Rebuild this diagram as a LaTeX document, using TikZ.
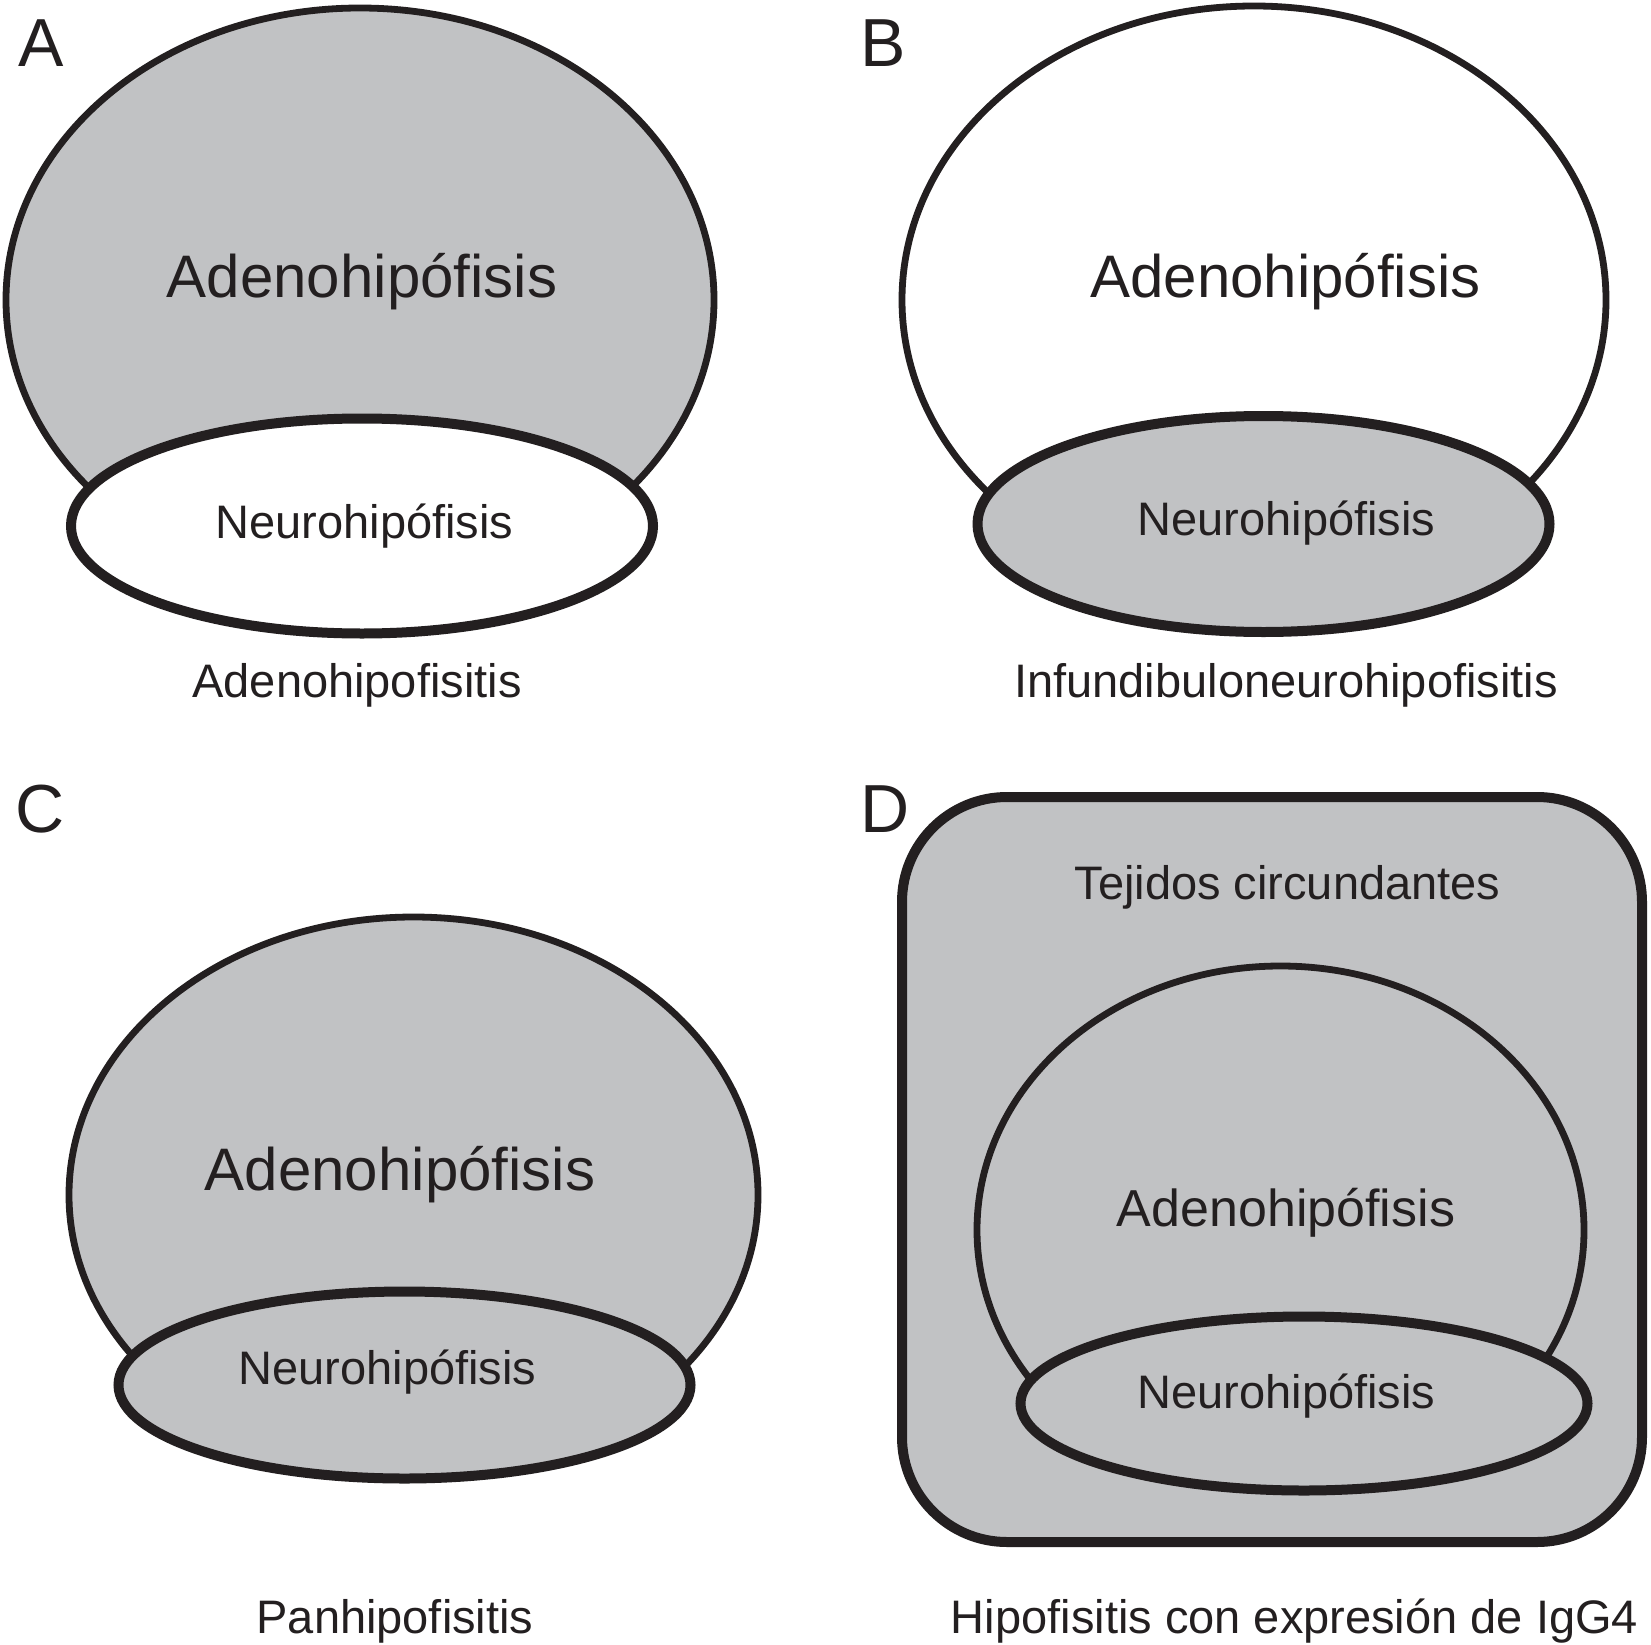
\documentclass[tikz,border=0pt]{standalone}
\usepackage{fontspec}
\setmainfont{Liberation Sans}
\definecolor{ink}{HTML}{231F20}
\definecolor{tissue}{HTML}{C1C2C4}
\begin{document}
\begin{tikzpicture}[x=1pt,y=-1pt,
  bigline/.style={draw=ink, line width=6.8pt},
  smallline/.style={draw=ink, line width=10pt},
  lbl/.style={inner sep=0pt, anchor=base, text=ink},
  panel/.style={inner sep=0pt, anchor=base west, text=ink, font=\fontsize{68pt}{70pt}\selectfont},
  bigtxt/.style={lbl, font=\fontsize{60pt}{62pt}\selectfont},
  midtxt/.style={lbl, font=\fontsize{52pt}{54pt}\selectfont},
  txt/.style={lbl, font=\fontsize{47pt}{49pt}\selectfont}]
\useasboundingbox[fill=white] (0,0) rectangle (1651,1645);

% ---------- Panel A ----------
\begin{scope}
  \clip (0,0) rectangle (830,526);
  \path[bigline, fill=tissue] (360,300) ellipse [x radius=354pt, y radius=292pt];
\end{scope}
\path[smallline, fill=white] (362,526) ellipse [x radius=291pt, y radius=107.5pt];
\node[panel] (la) at (18,67) {A};
\node[bigtxt] (adenoA) at (362,298) {Adenohipófisis};
\node[txt] (neuroA) at (364.5,538) {Neurohipófisis};
\node[txt] (capA) at (357,697) {Adenohipofisitis};

% ---------- Panel B ----------
\begin{scope}
  \clip (840,0) rectangle (1651,524);
  \path[bigline, fill=white] (1254,300) ellipse [x radius=352pt, y radius=294pt];
\end{scope}
\path[smallline, fill=tissue] (1263.5,524) ellipse [x radius=286pt, y radius=108pt];
\node[panel] (lb) at (860.6,67) {B};
\node[bigtxt] (adenoB) at (1285.5,298) {Adenohipófisis};
\node[txt] (neuroB) at (1286.5,535) {Neurohipófisis};
\node[txt] (capB) at (1286,697) {Infundibuloneurohipofisitis};

% ---------- Panel C ----------
\begin{scope}
  \clip (0,850) rectangle (830,1385);
  \path[bigline, fill=tissue] (413.5,1195) ellipse [x radius=344.5pt, y radius=278pt];
\end{scope}
\path[smallline, fill=tissue] (404.5,1385) ellipse [x radius=286pt, y radius=93.5pt];
\node[panel] (lc) at (15.6,832) {C};
\node[bigtxt] (adenoC) at (400,1190) {Adenohipófisis};
\node[txt] (neuroC) at (387.5,1384) {Neurohipófisis};
\node[txt] (capC) at (395,1633) {Panhipofisitis};

% ---------- Panel D ----------
\path[smallline, fill=tissue, rounded corners=105pt] (902,797) rectangle (1642,1542);
\begin{scope}
  \clip (902,850) rectangle (1642,1403.5);
  \path[bigline, fill=tissue] (1280.5,1230) ellipse [x radius=303.5pt, y radius=264pt];
\end{scope}
\path[smallline, fill=tissue] (1304,1403.5) ellipse [x radius=283.5pt, y radius=87pt];
\node[panel] (ld) at (860.6,832) {D};
\node[txt] (tissueD) at (1287.5,899) {Tejidos circundantes};
\node[midtxt] (adenoD) at (1286,1226) {Adenohipófisis};
\node[txt] (neuroD) at (1286.5,1408) {Neurohipófisis};
\node[txt] (capD) at (1294.5,1633) {Hipofisitis con expresión de IgG4};
\end{tikzpicture}
\end{document}
